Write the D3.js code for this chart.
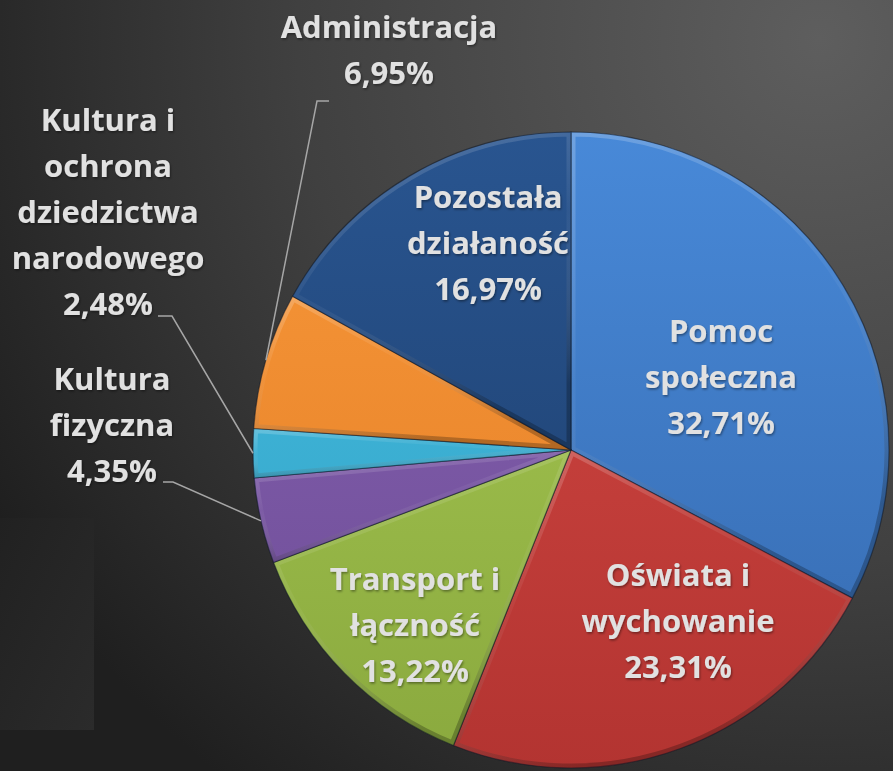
<!DOCTYPE html>
<html>
<head>
<meta charset="utf-8">
<script src="https://cdn.jsdelivr.net/npm/d3@7"></script>
<style>
  html, body { margin: 0; padding: 0; background: #333; }
  svg { display: block; }
</style>
</head>
<body>
<div id="chart"></div>
<script>
// data
const categories = [
  "Pomoc społeczna",
  "Oświata i wychowanie",
  "Transport i łączność",
  "Kultura fizyczna",
  "Kultura i ochrona dziedzictwa narodowego",
  "Administracja",
  "Pozostała działaność",
];
const shares = [32.71, 23.31, 13.22, 4.35, 2.48, 6.95, 16.97];
const labelLines = [
  ["Pomoc", "społeczna"],
  ["Oświata i", "wychowanie"],
  ["Transport i", "łączność"],
  ["Kultura", "fizyczna"],
  ["Kultura i", "ochrona", "dziedzictwa", "narodowego"],
  ["Administracja"],
  ["Pozostała", "działaność"],
];
const colors = [
  ["#4889d8", "#3569ae"],
  ["#d44944", "#b33431"],
  ["#a8ca54", "#8aa93e"],
  ["#8864b3", "#6c4b95"],
  ["#48bfe3", "#2f9fc2"],
  ["#f8983a", "#e27c24"],
  ["#295590", "#1c3c69"],
];

// label layout, offsets from the pie centre (text block middle baseline)
const labelLayout = [
  { dx: 150, dy: -62 },
  { dx: 107, dy: 182 },
  { dx: -156, dy: 186 },
  { dx: -459, dy: -14, elbow: [-398, 32], tick: 10 },
  { dx: -463, dy: -227, elbow: [-399, -134], tick: 14 },
  { dx: -182, dy: -389, elbow: [-254, -349], tick: -12 },
  { dx: -83, dy: -196 },
];

const W = 893, H = 771;
const cx = 571, cy = 450, radius = 318;
const lineH = 46;

const svg = d3.select("#chart").append("svg")
  .attr("width", W).attr("height", H);

const defs = svg.append("defs");

// background
const bg = defs.append("radialGradient").attr("id", "bg")
  .attr("gradientUnits", "userSpaceOnUse")
  .attr("cx", 820).attr("cy", 40).attr("r", 950);
bg.append("stop").attr("offset", 0).attr("stop-color", "#5e5e5e");
bg.append("stop").attr("offset", 0.55).attr("stop-color", "#404040");
bg.append("stop").attr("offset", 1).attr("stop-color", "#1f1f1f");

svg.append("rect").attr("width", W).attr("height", H).attr("fill", "url(#bg)");

const sideGrad = defs.append("linearGradient").attr("id", "side")
  .attr("x1", 0).attr("y1", 0).attr("x2", 1).attr("y2", 1);
sideGrad.append("stop").attr("offset", 0).attr("stop-color", "#212121");
sideGrad.append("stop").attr("offset", 1).attr("stop-color", "#2b2b2b");
svg.append("rect")
  .attr("x", 0).attr("y", 518).attr("width", 94).attr("height", 212)
  .attr("fill", "url(#side)");

// gradients for slices
colors.forEach((c, i) => {
  const g = defs.append("linearGradient").attr("id", "fill" + i)
    .attr("gradientUnits", "userSpaceOnUse")
    .attr("x1", 0).attr("y1", -radius).attr("x2", 0).attr("y2", radius);
  g.append("stop").attr("offset", 0).attr("stop-color", c[0]);
  g.append("stop").attr("offset", 1).attr("stop-color", c[1]);
});

const bevel = defs.append("linearGradient").attr("id", "bevel")
  .attr("x1", 0).attr("y1", 0).attr("x2", 0.3).attr("y2", 1);
bevel.append("stop").attr("offset", 0).attr("stop-color", "#fff").attr("stop-opacity", 0.22);
bevel.append("stop").attr("offset", 0.5).attr("stop-color", "#fff").attr("stop-opacity", 0.04);
bevel.append("stop").attr("offset", 1).attr("stop-color", "#000").attr("stop-opacity", 0.25);

const shadow = defs.append("filter").attr("id", "tshadow")
  .attr("x", "-10%").attr("y", "-10%").attr("width", "120%").attr("height", "130%");
shadow.append("feDropShadow").attr("dx", 1).attr("dy", 1.5)
  .attr("stdDeviation", 1.2).attr("flood-color", "#000").attr("flood-opacity", 0.4);

const data = categories.map((name, i) => ({ name, value: shares[i], i }));

const pie = d3.pie().sort(null).value((d) => d.value);
const arcs = pie(data);
const arc = d3.arc().innerRadius(0).outerRadius(radius);

const g = svg.append("g").attr("transform", `translate(${cx},${cy})`);

arcs.forEach((a, i) => {
  defs.append("clipPath").attr("id", "clip" + i)
    .append("path").attr("d", arc(a));
});

const slices = g.selectAll("g.slice").data(arcs).enter()
  .append("g").attr("class", "slice");

slices.append("path")
  .attr("d", arc)
  .attr("fill", (d) => `url(#fill${d.index})`);

// soft bevel along the edges
slices.append("path")
  .attr("d", arc)
  .attr("clip-path", (d) => `url(#clip${d.index})`)
  .attr("fill", "none")
  .attr("stroke", "url(#bevel)")
  .attr("stroke-width", 9)
  .attr("stroke-linejoin", "round");

slices.append("path")
  .attr("d", arc)
  .attr("fill", "none")
  .attr("stroke", "rgba(10,20,35,0.5)")
  .attr("stroke-width", 1.2);

// leader lines
const leaders = arcs.filter((d) => labelLayout[d.index].elbow);
g.selectAll("path.leader").data(leaders).enter()
  .append("path")
  .attr("class", "leader")
  .attr("fill", "none")
  .attr("stroke", "#a6a6a6")
  .attr("stroke-width", 1.5)
  .attr("d", (d) => {
    const mid = (d.startAngle + d.endAngle) / 2;
    const px = radius * Math.sin(mid), py = -radius * Math.cos(mid);
    const [ex, ey] = labelLayout[d.index].elbow;
    const t = labelLayout[d.index].tick;
    return `M${px},${py}L${ex},${ey}L${ex - t},${ey}`;
  });

// labels
const fmt = (v) => v.toFixed(2).replace(".", ",") + "%";
arcs.forEach((d) => {
  const L = labelLayout[d.index];
  const lines = labelLines[d.index].concat([fmt(d.data.value)]);
  const n = lines.length;
  const t = g.append("text")
    .attr("text-anchor", "middle")
    .attr("font-family", "'Open Sans', sans-serif")
    .attr("font-weight", 700)
    .attr("font-size", 31)
    .attr("fill", "#e1e1e1")
    .attr("filter", "url(#tshadow)");
  lines.forEach((s, k) => {
    t.append("tspan")
      .attr("x", L.dx)
      .attr("y", L.dy + (k - (n - 1) / 2) * lineH)
      .text(s);
  });
});
</script>
</body>
</html>
